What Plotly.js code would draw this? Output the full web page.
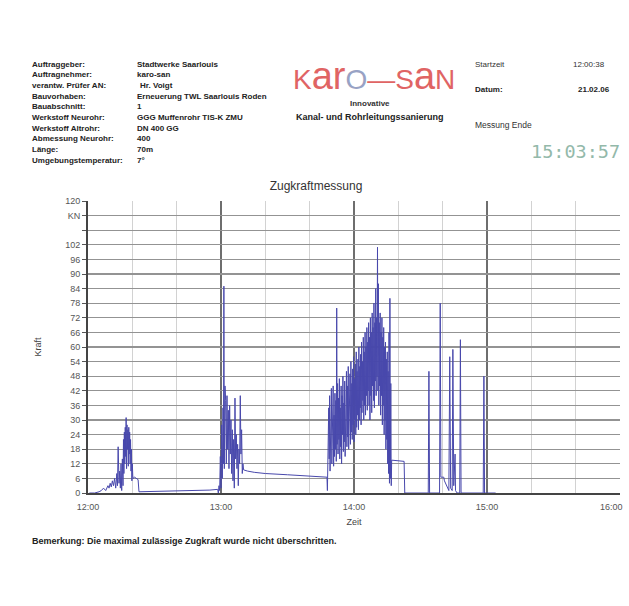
<!DOCTYPE html>
<html>
<head>
<meta charset="utf-8">
<script src="https://cdn.plot.ly/plotly-3.0.1.min.js"></script>
<style>html,body{margin:0;padding:0;background:#fff;}#chart{width:629px;height:606px;}</style>
</head>
<body>
<div id="chart"></div>
<script>
// ---- Data (time in minutes after 12:00, force in kN) ----
const zeitMin = [
  0.6, 3, 5, 6, 7, 8, 9, 9.5, 10, 10.5, 11, 11.5, 12, 12.5, 13, 13.3, 13.6, 14, 14.3,
  14.6, 14.9, 15.2, 15.5, 15.8, 16.0, 16.2, 16.4, 16.6, 16.8, 17.0, 17.2, 17.4, 17.6, 17.8, 18.0, 18.2, 18.4, 18.6, 18.8, 19.0, 19.2, 19.4, 19.6, 19.8, 20.0, 20.2,
  20.4, 21, 22, 22.6, 23, 30, 40, 50, 55, 58.5,
  58.8, 59.1, 59.4, 59.7, 60.0, 60.3, 60.6, 60.9, 61.1, 61.3, 61.5, 61.8, 62.1, 62.4, 62.7, 63.0, 63.3, 63.6, 63.9, 64.2, 64.5, 64.8, 65.1, 65.4, 65.7, 66.0, 66.3, 66.6, 66.9, 67.2, 67.5, 67.8, 68.1, 68.4, 68.7, 69.0, 69.3, 69.6, 69.9, 70.2,
  72, 75, 80, 90, 100, 107.5,
  107.8, 108.0, 108.2, 108.4, 108.6, 108.8, 109.0, 109.2, 109.4, 109.6, 109.8, 110.0, 110.2, 110.4, 110.6, 110.8, 111.0, 111.2, 111.4, 111.6, 111.8,
  112.0, 112.2, 112.4, 112.6, 112.8, 113.0, 113.2, 113.4, 113.6, 113.8, 114.0, 114.2, 114.4, 114.6, 114.8, 115.0, 115.2, 115.4, 115.6, 115.8,
  116.0, 116.2, 116.4, 116.6, 116.8, 117.0, 117.2, 117.4, 117.6, 117.8, 118.0, 118.2, 118.4, 118.6, 118.8, 119.0, 119.2, 119.4, 119.6, 119.8,
  120.0, 120.2, 120.4, 120.6, 120.8, 121.0, 121.2, 121.4, 121.6, 121.8, 122.0, 122.2, 122.4, 122.6, 122.8, 123.0, 123.2, 123.4, 123.6, 123.8,
  124.0, 124.2, 124.4, 124.6, 124.8, 125.0, 125.2, 125.4, 125.6, 125.8, 126.0, 126.2, 126.4, 126.6, 126.8, 127.0, 127.2, 127.4, 127.6, 127.8,
  128.0, 128.2, 128.4, 128.6, 128.8, 129.0, 129.2, 129.4, 129.6, 129.8, 130.0, 130.2, 130.4, 130.6, 130.8, 131.0, 131.2, 131.4, 131.6, 131.8,
  132.0, 132.2, 132.4, 132.6, 132.8, 133.0, 133.2, 133.4, 133.6, 133.8, 134.0, 134.2, 134.4, 134.6, 134.8, 135.0, 135.2, 135.4, 135.6, 135.8,
  136.0, 136.2, 136.4, 136.6, 136.8, 137.0, 142.6, 142.9,
  153.5, 153.8, 154.1, 158.6, 158.9, 159.2, 160.5, 160.8, 162.8, 163.2, 163.6, 164.3, 164.6, 165.0, 165.6, 165.8, 166.5,
  167.7, 168.0, 168.3, 178.3, 178.6, 178.9, 183.9
];
const kraftKN = [
  0, 0, 0.5, 1, 2, 1, 3, 2, 4, 2.5, 5, 3, 6, 2, 8, 3, 19, 4, 9,
  2, 12, 1, 14, 3, 22, 8, 25, 12, 27, 15, 31, 10, 28, 18, 26, 11, 27, 16, 25, 12, 22, 9, 18, 5, 12, 7,
  6, 6.5, 6, 5.5, 0.5, 0.6, 0.8, 1, 1.2, 1.5,
  0, 3, 1, 15, 2, 28, 6, 35, 12, 85, 10, 44, 38, 12, 40, 18, 34, 10, 36, 16, 30, 8, 26, 5, 22, 2, 39, 14, 24, 10, 20, 3, 18, 12, 40, 16, 26, 8, 12, 9.5,
  9, 8.5, 8, 7.5, 7, 6.5,
  6.5, 1, 22, 10, 35, 14, 40, 9, 30, 16, 43, 12, 36, 20, 44, 11, 32, 15, 41, 18, 38,
  13, 76, 20, 45, 16, 39, 22, 47, 14, 35, 19, 44, 12, 40, 24, 48, 17, 37, 21, 46,
  15, 42, 26, 50, 19, 44, 23, 52, 18, 40, 27, 49, 20, 54, 25, 45, 22, 51, 28, 56,
  21, 47, 30, 53, 24, 58, 27, 50, 32, 55, 26, 60, 30, 52, 35, 57, 28, 62, 33, 54,
  38, 64, 30, 58, 36, 66, 32, 60, 40, 68, 34, 62, 42, 70, 36, 64, 30, 72, 40, 66,
  33, 74, 44, 68, 38, 78, 35, 70, 46, 84, 40, 72, 48, 101, 42, 86, 36, 70, 44, 74,
  32, 66, 40, 72, 28, 64, 36, 68, 24, 60, 30, 62, 18, 55, 22, 58, 12, 50, 8, 66,
  4, 80, 6, 45, 3, 13.5, 13, 0,
  0, 50, 0, 0, 78, 6.5, 6.5, 5, 1, 56, 2, 1, 59, 3, 16, 1, 0,
  0, 63, 0, 0, 48, 0, 0
];
const xTickVals = [0, 60, 120, 180, 240];
const xTickLabels = ['12:00', '13:00', '14:00', '15:00', '16:00'];
const yTickVals = [0, 6, 12, 18, 24, 30, 36, 42, 48, 54, 60, 66, 72, 78, 84, 90, 96, 102, 108, 114, 120];
const yTickLabels = ['0', '6', '12', '18', '24', '30', '36', '42', '48', '54', '60', '66', '72', '78', '84', '90', '96', '102', '', 'KN', '120'];
const headerLabels = ['Auftraggeber:', 'Auftragnehmer:', 'verantw. Prüfer AN:', 'Bauvorhaben:', 'Bauabschnitt:', 'Werkstoff Neurohr:', 'Werkstoff Altrohr:', 'Abmessung Neurohr:', 'Länge:', 'Umgebungstemperatur:'];
const headerValues = ['Stadtwerke Saarlouis', 'karo-san', 'Hr. Voigt', 'Erneuerung TWL Saarlouis Roden', '1', 'GGG Muffenrohr TIS-K ZMU', 'DN 400 GG', '400', '70m', '7°'];

// ---- Layout helpers (pixel -> paper) ----
const L = 88, R = 620, T = 201, B = 493;
const px = x => (x - L) / (R - L);
const py = y => (B - y) / (B - T);
const FONT = 'Liberation Sans, Arial, sans-serif';

const ann = [];
function txt(text, x, y, opts) {
  opts = opts || {};
  ann.push({
    text: text, xref: 'paper', yref: 'paper', x: px(x), y: py(y),
    xanchor: opts.xanchor || 'left', yanchor: 'middle', showarrow: false,
    font: { family: opts.family || FONT, size: opts.size || 8, color: opts.color || '#222', weight: opts.weight || 'normal' }
  });
}
headerLabels.forEach((s, i) => txt(s, 30, 64 + i * 10.7, { weight: 'bold' }));
headerValues.forEach((s, i) => txt(s, i === 2 ? 138 : 135, 64 + i * 10.7, { weight: 'bold' }));

// logo
txt('<span style="color:#e06464">K</span><span style="color:#e06464;font-size:38px">ar</span><span style="color:#98a2c4">O</span><span style="color:#e06464">—S</span><span style="color:#e06464;font-size:38px">a</span><span style="color:#e06464">N</span>', 374, 76, { xanchor: 'center', size: 28, color: '#e06464' });
txt('Innovative', 370, 103, { xanchor: 'center', size: 8, weight: 'bold', color: '#333' });
txt('Kanal- und Rohrleitungssanierung', 370, 117, { xanchor: 'center', size: 9, weight: 'bold', color: '#222' });

txt('Startzeit', 473, 64, { size: 8, color: '#333' });
txt('12:00:38', 607, 64, { xanchor: 'right', size: 8, color: '#333' });
txt('Datum:', 473, 89, { size: 8, weight: 'bold' });
txt('21.02.06', 612, 89, { xanchor: 'right', size: 8, weight: 'bold' });
txt('Messung Ende', 473, 125, { size: 8.5, color: '#333' });
txt('15:03:57', 622, 151, { xanchor: 'right', size: 18.5, color: '#93b9aa', family: 'DejaVu Sans Mono, monospace' });

txt('Bemerkung: Die maximal zulässige Zugkraft wurde nicht überschritten.', 30, 541, { size: 9, weight: 'bold' });
txt(xTickLabels[4], 611, 507, { xanchor: 'center', size: 9, color: '#555' });

const trace = {
  x: zeitMin, y: kraftKN, type: 'scatter', mode: 'lines',
  line: { color: 'rgb(72,72,172)', width: 1 }, hoverinfo: 'skip'
};

const layout = {
  width: 629, height: 606,
  margin: { l: L, r: 629 - R, t: T, b: 606 - B, autoexpand: false },
  paper_bgcolor: '#fff', plot_bgcolor: '#fff',
  showlegend: false,
  title: { text: 'Zugkraftmessung', font: { family: FONT, size: 12, color: '#333' }, xref: 'paper', x: px(316), xanchor: 'center', yref: 'container', y: 1 - 186 / 606, yanchor: 'middle' },
  xaxis: {
    range: [0, 240], tickvals: xTickVals, ticktext: xTickLabels.slice(0, 4).concat(['']),
    showgrid: true, gridcolor: '#6e6e6e', gridwidth: 1.4,
    minor: { dtick: 20, tick0: 0, showgrid: true, gridcolor: '#d2d2d2', gridwidth: 1 },
    showline: true, linecolor: '#444', linewidth: 1.5, zeroline: false,
    ticks: '', ticklabelstandoff: 5, tickfont: { family: FONT, size: 9, color: '#555' },
    title: { text: 'Zeit', font: { family: FONT, size: 9, color: '#444' }, standoff: 7 },
    automargin: false, fixedrange: true
  },
  yaxis: {
    range: [0, 120], tickvals: yTickVals, ticktext: yTickLabels,
    showgrid: true, gridcolor: '#939393', gridwidth: 1.3,
    showline: true, linecolor: '#444', linewidth: 2, zeroline: false,
    ticks: 'outside', ticklen: 4, tickcolor: '#555', tickwidth: 1,
    tickfont: { family: FONT, size: 9, color: '#555' },
    title: { text: 'Kraft', font: { family: FONT, size: 9, color: '#444' }, standoff: 22 },
    automargin: false, fixedrange: true
  },
  annotations: ann
};

Plotly.newPlot('chart', [trace], layout, { staticPlot: true, displayModeBar: false });
</script>
</body>
</html>
